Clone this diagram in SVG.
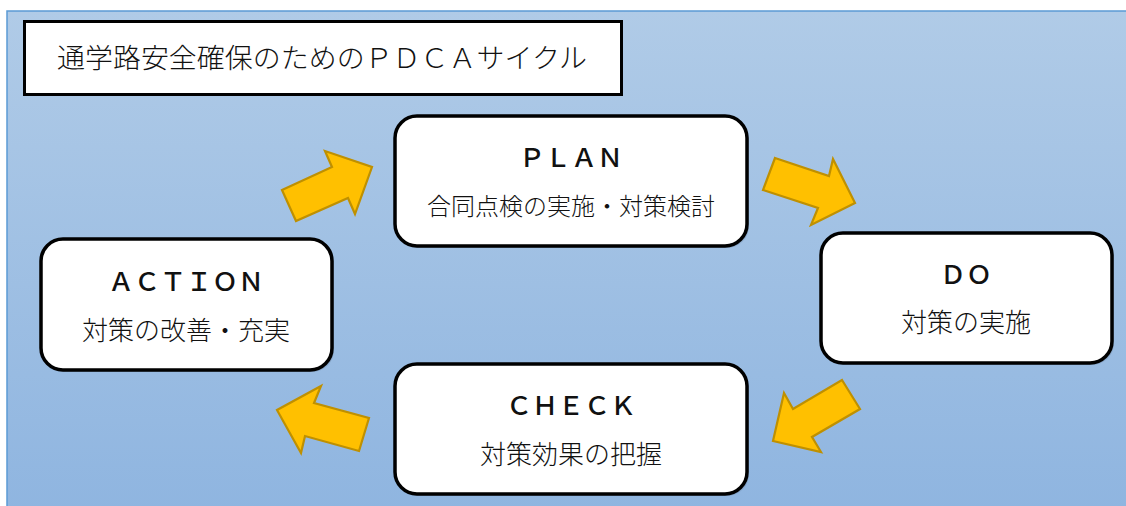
<svg xmlns="http://www.w3.org/2000/svg" width="1126" height="506" viewBox="0 0 1126 506">
  <defs>
    <linearGradient id="bg" x1="0" y1="0" x2="0" y2="1">
      <stop offset="0" stop-color="#b0cbe7"/>
      <stop offset="1" stop-color="#8fb5e0"/>
    </linearGradient>
    <style>
      .box { fill: #ffffff; stroke: #000000; stroke-width: 3.5; }
      .shadow { fill: #6f8aa8; opacity: 0.45; }
      .arrow { fill: #ffc000; stroke: #bf9000; stroke-width: 2.2; stroke-linejoin: miter; }
      .head { font-family: "Noto Sans CJK JP", "Liberation Serif", serif; font-size: 26px; font-weight: 500; fill: #111111; text-anchor: middle; }
      .sub { font-family: "Noto Sans CJK JP", "Liberation Serif", serif; font-size: 26px; font-weight: 300; fill: #111111; text-anchor: middle; }
      .title { font-family: "Noto Sans CJK JP", "Liberation Serif", serif; font-size: 27.5px; font-weight: 300; fill: #111111; }
    </style>
  </defs>

  <rect x="0" y="0" width="1126" height="506" fill="#ffffff"/>
  <rect x="7" y="11" width="1125" height="500" fill="url(#bg)" stroke="#5b9bd5" stroke-width="1.5"/>

  <g id="title">
    <rect x="24.5" y="21.5" width="597" height="73" fill="#ffffff" stroke="#000000" stroke-width="3"/>
    <text class="title" x="57" y="68" textLength="530" lengthAdjust="spacingAndGlyphs">通学路安全確保のためのＰＤＣＡサイクル</text>
  </g>

  <g id="connectors">
    <polygon class="arrow" points="282,190 332,167 325,151 372,167 355,214 348,198 296,221"/>
    <polygon class="arrow" points="775,158 829,176 833,159 855,203 811,225 818,208 763,190"/>
    <polygon class="arrow" points="842,380 860,409 812,437 821,452 773,441 784,393 793,409"/>
    <polygon class="arrow" points="369,418 359,451 305,436 301,453 277,410 321,386 314,403"/>
  </g>

  <g id="plan">
    <rect class="shadow" x="397" y="118" width="352" height="130" rx="22"/>
    <rect class="box" x="395" y="116" width="352" height="130" rx="22"/>
    <text class="head" x="571" y="167">ＰＬＡＮ</text>
    <text class="sub" x="571" y="215" style="font-size:24px">合同点検の実施・対策検討</text>
  </g>

  <g id="do">
    <rect class="shadow" x="823" y="235" width="291" height="130" rx="22"/>
    <rect class="box" x="821" y="233" width="291" height="130" rx="22"/>
    <text class="head" x="966" y="284">ＤＯ</text>
    <text class="sub" x="966" y="332">対策の実施</text>
  </g>

  <g id="check">
    <rect class="shadow" x="397" y="366" width="352" height="130" rx="22"/>
    <rect class="box" x="395" y="364" width="352" height="130" rx="22"/>
    <text class="head" x="571" y="415">ＣＨＥＣＫ</text>
    <text class="sub" x="571" y="464">対策効果の把握</text>
  </g>

  <g id="action">
    <rect class="shadow" x="43" y="241" width="291" height="131" rx="22"/>
    <rect class="box" x="41" y="239" width="291" height="131" rx="22"/>
    <text class="head" x="186" y="291">ＡＣＴＩＯＮ</text>
    <text class="sub" x="186" y="340">対策の改善・充実</text>
  </g>
</svg>
